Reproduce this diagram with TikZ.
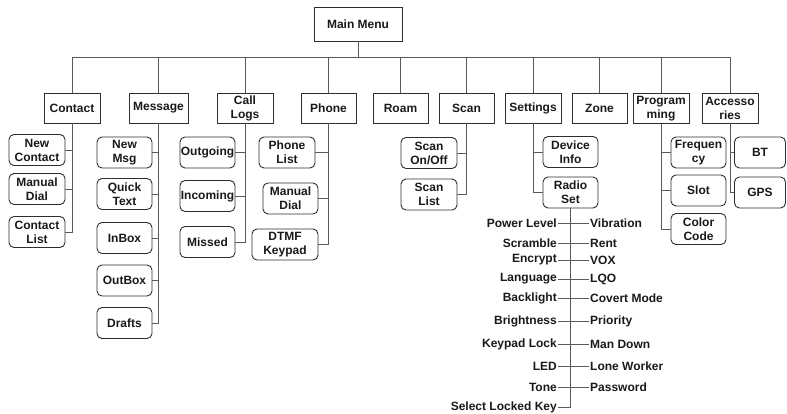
\documentclass[tikz,border=0pt]{standalone}
\usepackage{fontspec}
\setmainfont{Liberation Sans}
\definecolor{linegray}{HTML}{5A5A5A}
\definecolor{boxgray}{HTML}{2E2E2E}
\tikzset{
  menubox/.style={draw=boxgray,line width=0.9pt,inner sep=0pt,align=center,minimum height=30pt},
  subbox/.style={menubox,rounded corners=5pt,minimum height=31pt},
  opt/.style={inner sep=1pt},
  link/.style={draw=linegray,line width=0.8pt}
}
\begin{document}
\begin{tikzpicture}[x=1pt,y=-1pt,font=\fontsize{12}{14}\selectfont\bfseries,text=black!90]
\useasboundingbox (0,0) rectangle (787,413);
\node[menubox,minimum width=88pt,minimum height=34pt] (main) at (358,24) {Main Menu};
\coordinate (bus) at (358,57);
\node[menubox,minimum width=56pt] (contact) at (72,108) {Contact};
\node[menubox,minimum width=59pt] (message) at (158.5,108) {Message};
\node[menubox,minimum width=56pt] (calllogs) at (245,108) {Call\\Logs};
\node[menubox,minimum width=55pt] (phone) at (328.5,108) {Phone};
\node[menubox,minimum width=55pt] (roam) at (400.5,108) {Roam};
\node[menubox,minimum width=55pt] (scan) at (466.5,108) {Scan};
\node[menubox,minimum width=56pt] (settings) at (533,108) {Settings};
\node[menubox,minimum width=55pt] (zone) at (599.5,108) {Zone};
\node[menubox,minimum width=56pt] (prog) at (661,108.5) {Program\\ming};
\node[menubox,minimum width=56pt] (acc) at (730,108) {Accesso\\ries};
\draw[link] (main.south) -- (bus);
\foreach \n in {contact,message,calllogs,phone,roam,scan,settings,zone,prog,acc}
  \draw[link] (bus) -| (\n.north);
\node[subbox,minimum width=56pt] (newcontact) at (37,150) {New\\Contact};
\node[subbox,minimum width=56pt] (cmanual) at (37,189) {Manual\\Dial};
\node[subbox,minimum width=56pt] (clist) at (37,232) {Contact\\List};
\foreach \n in {newcontact,cmanual,clist}
  \draw[link] (contact.south) |- (\n.east);
\node[subbox,minimum width=55pt] (newmsg) at (124.5,152.5) {New\\Msg};
\node[subbox,minimum width=55pt] (quick) at (124.5,194) {Quick\\Text};
\node[subbox,minimum width=55pt] (inbox) at (124.5,238) {InBox};
\node[subbox,minimum width=55pt] (outbox) at (124.5,280.5) {OutBox};
\node[subbox,minimum width=55pt] (drafts) at (124.5,323) {Drafts};
\foreach \n in {newmsg,quick,inbox,outbox,drafts}
  \draw[link] (message.south) |- (\n.east);
\node[subbox,minimum width=55pt] (outgoing) at (207.5,152.5) {Outgoing};
\node[subbox,minimum width=55pt] (incoming) at (207.5,196) {Incoming};
\node[subbox,minimum width=55pt] (missed) at (207.5,242) {Missed};
\foreach \n in {outgoing,incoming,missed}
  \draw[link] (calllogs.south) |- (\n.east);
\node[subbox,minimum width=56pt] (plist) at (287,152.5) {Phone\\List};
\node[subbox,minimum width=55pt] (pmanual) at (290.5,198.5) {Manual\\Dial};
\node[subbox,minimum width=66pt] (dtmf) at (285,244.5) {DTMF\\Keypad};
\foreach \n in {plist,pmanual,dtmf}
  \draw[link] (phone.south) |- (\n.east);
\node[subbox,minimum width=56pt] (onoff) at (429,153) {Scan\\On/Off};
\node[subbox,minimum width=56pt] (slist) at (429,194.5) {Scan\\List};
\foreach \n in {onoff,slist}
  \draw[link] (scan.south) |- (\n.east);
\node[subbox,minimum width=55pt] (device) at (570.5,152) {Device\\Info};
\node[subbox,minimum width=55pt] (radio) at (570.5,192.5) {Radio\\Set};
\foreach \n in {device,radio}
  \draw[link] (settings.south) |- (\n.west);
\node[subbox,minimum width=55pt] (freq) at (698.5,152.5) {Frequen\\cy};
\node[subbox,minimum width=55pt] (slot) at (698.5,190.5) {Slot};
\node[subbox,minimum width=55pt] (color) at (698.5,229) {Color\\Code};
\foreach \n in {freq,slot,color}
  \draw[link] (prog.south) |- (\n.west);
\node[subbox,minimum width=51pt] (bt) at (760,152.5) {BT};
\node[subbox,minimum width=51pt] (gps) at (760,192.5) {GPS};
\foreach \n in {bt,gps}
  \draw[link] (acc.south) |- (\n.west);
\node[opt,anchor=east] (power) at (558,223) {Power Level};
\node[opt,anchor=east] (scramble) at (558,243) {Scramble};
\node[opt,anchor=east] (encrypt) at (558,260) {Encrypt};
\node[opt,anchor=east] (language) at (558,279) {Language};
\node[opt,anchor=east] (backlight) at (558,298) {Backlight};
\node[opt,anchor=east] (bright) at (558,321) {Brightness};
\node[opt,anchor=east] (keylock) at (558,344) {Keypad Lock};
\node[opt,anchor=east] (led) at (558,366) {LED};
\node[opt,anchor=east] (tone) at (558,387) {Tone};
\node[opt,anchor=east] (selkey) at (558,407) {Select Locked Key};
\node[opt,anchor=west] (vibration) at (589,223) {Vibration};
\node[opt,anchor=west] (rent) at (589,243) {Rent};
\node[opt,anchor=west] (vox) at (589,260) {VOX};
\node[opt,anchor=west] (lqo) at (589,279) {LQO};
\node[opt,anchor=west] (covert) at (589,298) {Covert Mode};
\node[opt,anchor=west] (priority) at (589,321) {Priority};
\node[opt,anchor=west] (mandown) at (589,344) {Man Down};
\node[opt,anchor=west] (lone) at (589,366) {Lone Worker};
\node[opt,anchor=west] (password) at (589,387) {Password};
\draw[link] (radio.south) -- (selkey.east -| radio.south);
\foreach \l/\r in {power/vibration,scramble/rent,encrypt/vox,language/lqo,backlight/covert,bright/priority,keylock/mandown,led/lone,tone/password}
  \draw[link] (\l.east) -- (\r.west);
\draw[link] (selkey.east) -- (selkey.east -| radio.south);
\end{tikzpicture}
\end{document}
